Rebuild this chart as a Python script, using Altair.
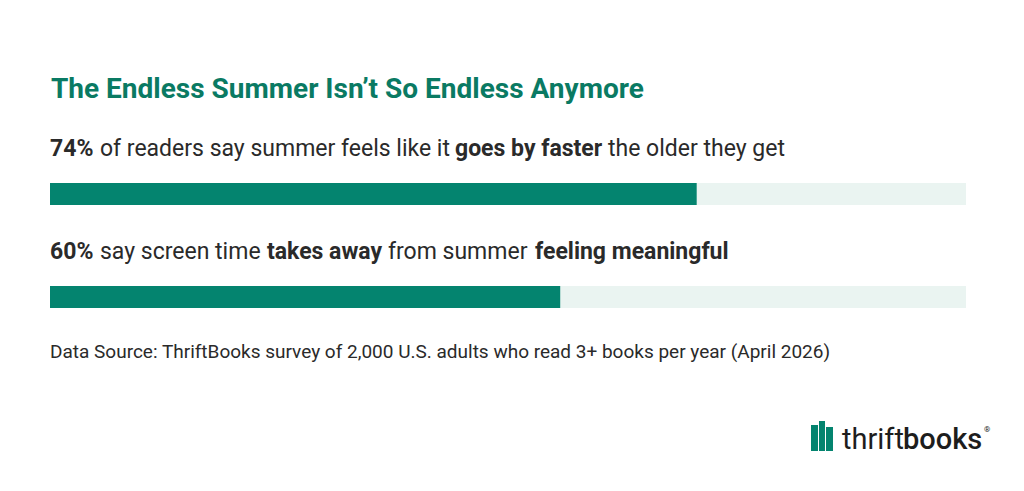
import altair as alt
import pandas as pd

# ---- data ----
rows = ["faster", "screen"]
track_values = [100, 100]
bar_values = [70.6, 55.7]

# text segments per row: (row, text, bold, x start on page)
seg_rows = ["faster", "faster", "faster", "faster",
            "screen", "screen", "screen", "screen", "screen"]
seg_texts = ["74%", "of readers say summer feels like it", "goes by faster", "the older they get",
             "60%", "say screen time", "takes away", "from summer", "feeling meaningful"]
seg_bold = [True, False, True, False, True, False, True, False, True]
seg_x = [50, 100, 455, 608, 50, 100, 267, 388, 535]

title_text = "The Endless Summer Isn\u2019t So Endless Anymore"
source_text = "Data Source: ThriftBooks survey of 2,000 U.S. adults who read 3+ books per year (April 2026)"

GREEN = "#04846f"
TRACK = "#eaf4f1"
TEXT = "#2a2a2a"
TITLE = "#0a7a63"
FONT = "Roboto"
OFF = 8  # page margin

bars = pd.DataFrame({"row": rows, "track": track_values, "value": bar_values})
segs = pd.DataFrame({"row": seg_rows, "text": seg_texts,
                     "weight": ["bold" if b else "normal" for b in seg_bold],
                     "px": [x - OFF for x in seg_x]})

xs = alt.Scale(domain=[0, 100], range=[50 - OFF, 966 - OFF])
ys = alt.Scale(type="point", domain=rows, range=[194 - OFF, 297 - OFF], padding=0)

track = alt.Chart(bars).mark_bar(size=22, color=TRACK).encode(
    x=alt.X("track:Q", scale=xs, axis=None),
    y=alt.Y("row:N", scale=ys, axis=None),
)
fill = alt.Chart(bars).mark_bar(size=22, color=GREEN).encode(
    x=alt.X("value:Q", scale=xs, axis=None),
    y=alt.Y("row:N", scale=ys, axis=None),
)

seg_norm = alt.Chart(segs).transform_filter(alt.datum.weight == "normal").mark_text(
    align="left", baseline="alphabetic", font=FONT, fontSize=23, fontWeight=400,
    color=TEXT, dy=-38
).encode(
    x=alt.X("px:Q", scale=None, axis=None),
    y=alt.Y("row:N", scale=ys, axis=None),
    text="text:N",
)
seg_bold_l = alt.Chart(segs).transform_filter(alt.datum.weight == "bold").mark_text(
    align="left", baseline="alphabetic", font=FONT, fontSize=23, fontWeight=700,
    color=TEXT, dy=-38
).encode(
    x=alt.X("px:Q", scale=None, axis=None),
    y=alt.Y("row:N", scale=ys, axis=None),
    text="text:N",
)

title = alt.Chart(pd.DataFrame({"t": [title_text]})).mark_text(
    align="left", baseline="alphabetic", font=FONT, fontSize=28, fontWeight=700,
    color=TITLE
).encode(x=alt.value(51 - OFF), y=alt.value(98 - OFF), text="t:N")

source = alt.Chart(pd.DataFrame({"t": [source_text]})).mark_text(
    align="left", baseline="alphabetic", font=FONT, fontSize=19, fontWeight=400,
    color=TEXT
).encode(x=alt.value(50 - OFF), y=alt.value(358 - OFF), text="t:N")

# logo
logo_thrift = alt.Chart(pd.DataFrame({"t": ["thrift"]})).mark_text(
    align="left", baseline="alphabetic", font=FONT, fontSize=29, fontWeight=400,
    color="#1d1d1d"
).encode(x=alt.value(842 - OFF), y=alt.value(449 - OFF), text="t:N")
logo_books = alt.Chart(pd.DataFrame({"t": ["books"]})).mark_text(
    align="left", baseline="alphabetic", font=FONT, fontSize=29, fontWeight=500,
    color="#1d1d1d"
).encode(x=alt.value(903 - OFF), y=alt.value(449 - OFF), text="t:N")
logo_r = alt.Chart(pd.DataFrame({"t": ["\u00ae"]})).mark_text(
    align="left", baseline="alphabetic", font=FONT, fontSize=8, color="#1d1d1d"
).encode(x=alt.value(984 - OFF), y=alt.value(432 - OFF), text="t:N")

spines = []
for (x0, x1, y0) in [(811, 818, 425), (819, 825, 421), (826, 833, 427)]:
    spines.append(
        alt.Chart(pd.DataFrame({"a": [0]})).mark_rect(color=GREEN).encode(
            x=alt.value(x0 - OFF), x2=alt.value(x1 - OFF),
            y=alt.value(y0 - OFF), y2=alt.value(451 - OFF))
    )

chart = alt.layer(track, fill, seg_norm, seg_bold_l, title, source,
                  logo_thrift, logo_books, logo_r, *spines).properties(
    width=1008, height=475, padding=0,
    autosize=alt.AutoSizeParams(type="fit", contains="padding"),
    background="white",
).configure_view(stroke=None)

chart.save("out.html", embed_options={"renderer": "svg", "actions": False})
